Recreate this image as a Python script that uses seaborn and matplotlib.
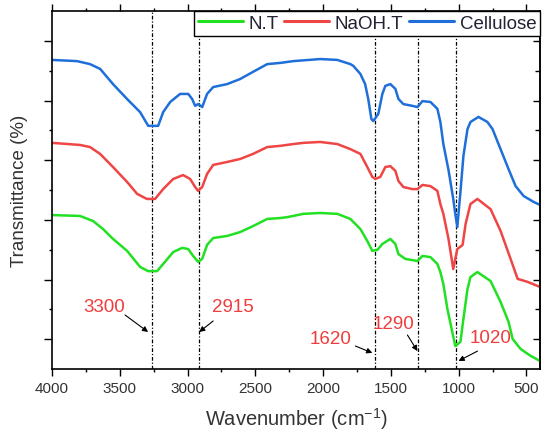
import numpy as np
import pandas as pd
import matplotlib
matplotlib.use("Agg")
import matplotlib.pyplot as plt
import seaborn as sns
from matplotlib.ticker import FixedLocator, NullFormatter

# ---------------- data ----------------
series_names = ["N.T", "NaOH.T", "Cellulose"]

wn_nt = [4000, 3793, 3697, 3623, 3550, 3446, 3350, 3290, 3225, 3180, 3106, 3040, 2995, 2959, 2922,
         2892, 2856, 2811, 2708, 2612, 2517, 2412, 2316, 2265, 2146, 2021, 1895, 1799, 1725, 1674,
         1637, 1600, 1563, 1504, 1467, 1444, 1393, 1304, 1267, 1208, 1157, 1135, 1113, 1083, 1047,
         1025, 987, 965, 935, 913, 862, 765, 691, 632, 602, 543, 469, 400]
t_nt = [51.6, 51.3, 49.6, 46.9, 43.6, 39.6, 34.2, 32.8, 32.8, 35.2, 39.2, 40.6, 40.2, 37.9, 35.9,
        36.9, 41.6, 43.9, 44.6, 45.9, 47.9, 50.3, 50.6, 50.9, 52.0, 52.3, 52.0, 50.3, 46.9, 42.9,
        39.6, 39.9, 41.9, 43.6, 41.9, 38.5, 36.9, 36.2, 37.9, 37.5, 35.2, 32.5, 28.5, 20.1, 12.4,
        7.7, 9.1, 16.8, 26.8, 30.8, 32.5, 29.5, 22.5, 15.8, 10.1, 6.7, 4.4, 2.7]

wn_naoh = [4000, 3793, 3720, 3645, 3550, 3446, 3372, 3300, 3240, 3180, 3106, 3033, 2981, 2944, 2922,
           2892, 2856, 2811, 2708, 2612, 2517, 2412, 2316, 2220, 2146, 2021, 1895, 1799, 1725, 1674,
           1637, 1615, 1578, 1541, 1504, 1467, 1444, 1408, 1341, 1304, 1267, 1208, 1157, 1135, 1113,
           1075, 1040, 1010, 971, 949, 913, 862, 765, 691, 617, 565, 491, 400]
t_naoh = [75.8, 75.1, 74.4, 72.1, 67.7, 62.7, 58.7, 57.0, 57.0, 60.3, 63.7, 65.0, 63.7, 61.0, 59.7,
          61.0, 65.4, 68.4, 69.4, 70.4, 72.1, 74.4, 74.8, 75.4, 75.8, 76.1, 75.4, 73.7, 72.1, 67.7,
          64.4, 63.7, 64.4, 67.7, 68.0, 66.4, 63.0, 61.0, 60.3, 60.3, 61.7, 61.3, 59.7, 55.3, 52.0,
          43.6, 33.5, 40.2, 41.6, 48.6, 55.3, 57.0, 53.6, 46.3, 36.9, 30.2, 29.2, 27.5]

wn_cel = [4000, 3815, 3720, 3645, 3550, 3446, 3350, 3290, 3217, 3180, 3128, 3055, 2995, 2966, 2944,
          2922, 2892, 2856, 2811, 2708, 2612, 2517, 2412, 2316, 2220, 2021, 1895, 1799, 1777, 1725,
          1690, 1667, 1644, 1630, 1593, 1563, 1541, 1504, 1467, 1444, 1408, 1341, 1304, 1267, 1208,
          1157, 1135, 1113, 1075, 1040, 1025, 1010, 987, 965, 935, 913, 854, 788, 750, 691,
          632, 580, 521, 447, 400]
t_cel = [103.6, 103.2, 102.2, 100.6, 95.5, 90.5, 86.1, 81.5, 81.5, 86.1, 89.5, 92.2, 92.2, 90.5, 88.2,
         88.8, 87.8, 92.2, 94.5, 95.5, 97.2, 99.6, 102.2, 102.6, 103.2, 103.9, 103.6, 102.2, 101.6, 98.9,
         95.5, 90.5, 83.8, 83.1, 85.5, 92.2, 94.9, 95.5, 93.9, 90.5, 88.8, 88.2, 87.8, 89.8, 89.5,
         87.2, 82.8, 75.4, 66.7, 57.0, 52.0, 47.6, 59.3, 71.4, 80.4, 82.8, 84.5, 82.8, 80.4, 73.7,
         67.0, 61.3, 58.0, 56.0, 55.0]

peak_lines = [3265, 2915, 1620, 1300, 1018]
peak_labels = ["3300", "2915", "1620", "1290", "1020"]

x_ticks = [4000, 3500, 3000, 2500, 2000, 1500, 1000, 500]
x_tick_labels = ["4000", "3500", "3000", "2500", "2000", "1500", "1000", "500"]

# ---------------- layout (not data) ----------------
# (text position, arrow tail, arrow head) in data coordinates
annot_layout = [
    ((3616, 20.8), (3461, 18.1), (3291, 12.4)),
    ((2663, 20.8), (2811, 16.1), (2914, 12.4)),
    ((1947, 10.1), (1762, 7.7), (1637, 5.4)),
    ((1482, 15.1), (1378, 11.4), (1304, 6.0)),
    ((765, 10.4), (861, 6.0), (1001, 2.7)),
]

colors = {"N.T": "#22E022", "NaOH.T": "#F04545", "Cellulose": "#1E6FD9"}

frames = []
for name, wn, tt in [("N.T", wn_nt, t_nt), ("NaOH.T", wn_naoh, t_naoh), ("Cellulose", wn_cel, t_cel)]:
    frames.append(pd.DataFrame({"Wavenumber": wn, "T": tt, "Sample": name}))
df = pd.concat(frames, ignore_index=True)

sns.set_theme(style="white")
plt.rcParams["font.family"] = ["Liberation Sans", "DejaVu Sans"]
plt.rcParams["mathtext.fontset"] = "custom"
plt.rcParams["mathtext.rm"] = "Liberation Sans"

fig = plt.figure(figsize=(5.43, 4.35), dpi=100)
ax = fig.add_axes([52 / 543, 1 - 370 / 435, (540 - 52) / 543, (370 - 12) / 435])

sns.lineplot(data=df, x="Wavenumber", y="T", hue="Sample", hue_order=series_names,
             palette=colors, estimator=None, sort=False, linewidth=1.8, ax=ax, legend=False)
for ln in ax.lines:
    ln.set_solid_joinstyle("round")

for xv in peak_lines:
    ax.axvline(xv, color="black", lw=0.9, ls=(0, (3, 1.5, 1, 1.5)), zorder=1)

for lab, (tp, tail, head) in zip(peak_labels, annot_layout):
    ax.text(tp[0], tp[1], lab, color="#F03C3C", fontsize=13.5, ha="center", va="center")
    ax.annotate("", xy=head, xytext=tail,
                arrowprops=dict(arrowstyle="-|>", color="black", lw=0.8, mutation_scale=8,
                                shrinkA=0, shrinkB=0))

ax.set_xlim(4000, 400)
ax.set_ylim(0, 120)
ax.xaxis.set_major_locator(FixedLocator(x_ticks))
ax.set_xticklabels(x_tick_labels)
ax.xaxis.set_minor_locator(FixedLocator([3750, 3250, 2750, 2250, 1750, 1250, 750]))
ax.yaxis.set_major_locator(FixedLocator([10, 30, 50, 70, 90, 110]))
ax.yaxis.set_minor_locator(FixedLocator([20, 40, 60, 80, 100]))
ax.yaxis.set_major_formatter(NullFormatter())

ax.tick_params(axis="x", which="both", direction="out", bottom=True, top=True,
               labelsize=11, labelcolor="#333333", color="black", width=1, pad=4)
ax.tick_params(axis="x", which="major", length=5)
ax.tick_params(axis="x", which="minor", length=2.5)
ax.tick_params(axis="y", which="both", direction="out", left=True, right=False, color="black", width=1)
ax.tick_params(axis="y", which="major", length=6)
ax.tick_params(axis="y", which="minor", length=2.5)

sec = ax.secondary_yaxis("right")
sec.yaxis.set_major_locator(FixedLocator([10, 30, 50, 70, 90, 110]))
sec.yaxis.set_minor_locator(FixedLocator([20, 40, 60, 80, 100]))
sec.yaxis.set_major_formatter(NullFormatter())
sec.tick_params(axis="y", which="both", direction="in", color="black", width=1)
sec.tick_params(axis="y", which="major", length=5)
sec.tick_params(axis="y", which="minor", length=3.5)
sec.spines["right"].set_linewidth(1.2)

for s in ax.spines.values():
    s.set_color("black")
    s.set_linewidth(1.2)

ax.set_xlabel("Wavenumber (cm$^{-1}$)", fontsize=14.5, color="#333333", labelpad=7)
ax.set_ylabel("Transmittance (%)", fontsize=13.5, color="#333333", labelpad=8)

handles = [plt.Line2D([], [], color=colors[n], lw=2.2) for n in series_names]
leg = ax.legend(handles, series_names, loc="upper right", ncol=3, fontsize=13.5,
                frameon=True, fancybox=False, framealpha=1, edgecolor="black",
                borderaxespad=0, borderpad=0.2, handletextpad=0.3, columnspacing=0.3,
                handlelength=2.4)
leg.get_frame().set_linewidth(1.0)
for t in leg.get_texts():
    t.set_color("#222233")
leg.set_zorder(5)

fig.savefig("out.png", dpi=100, facecolor="white")
